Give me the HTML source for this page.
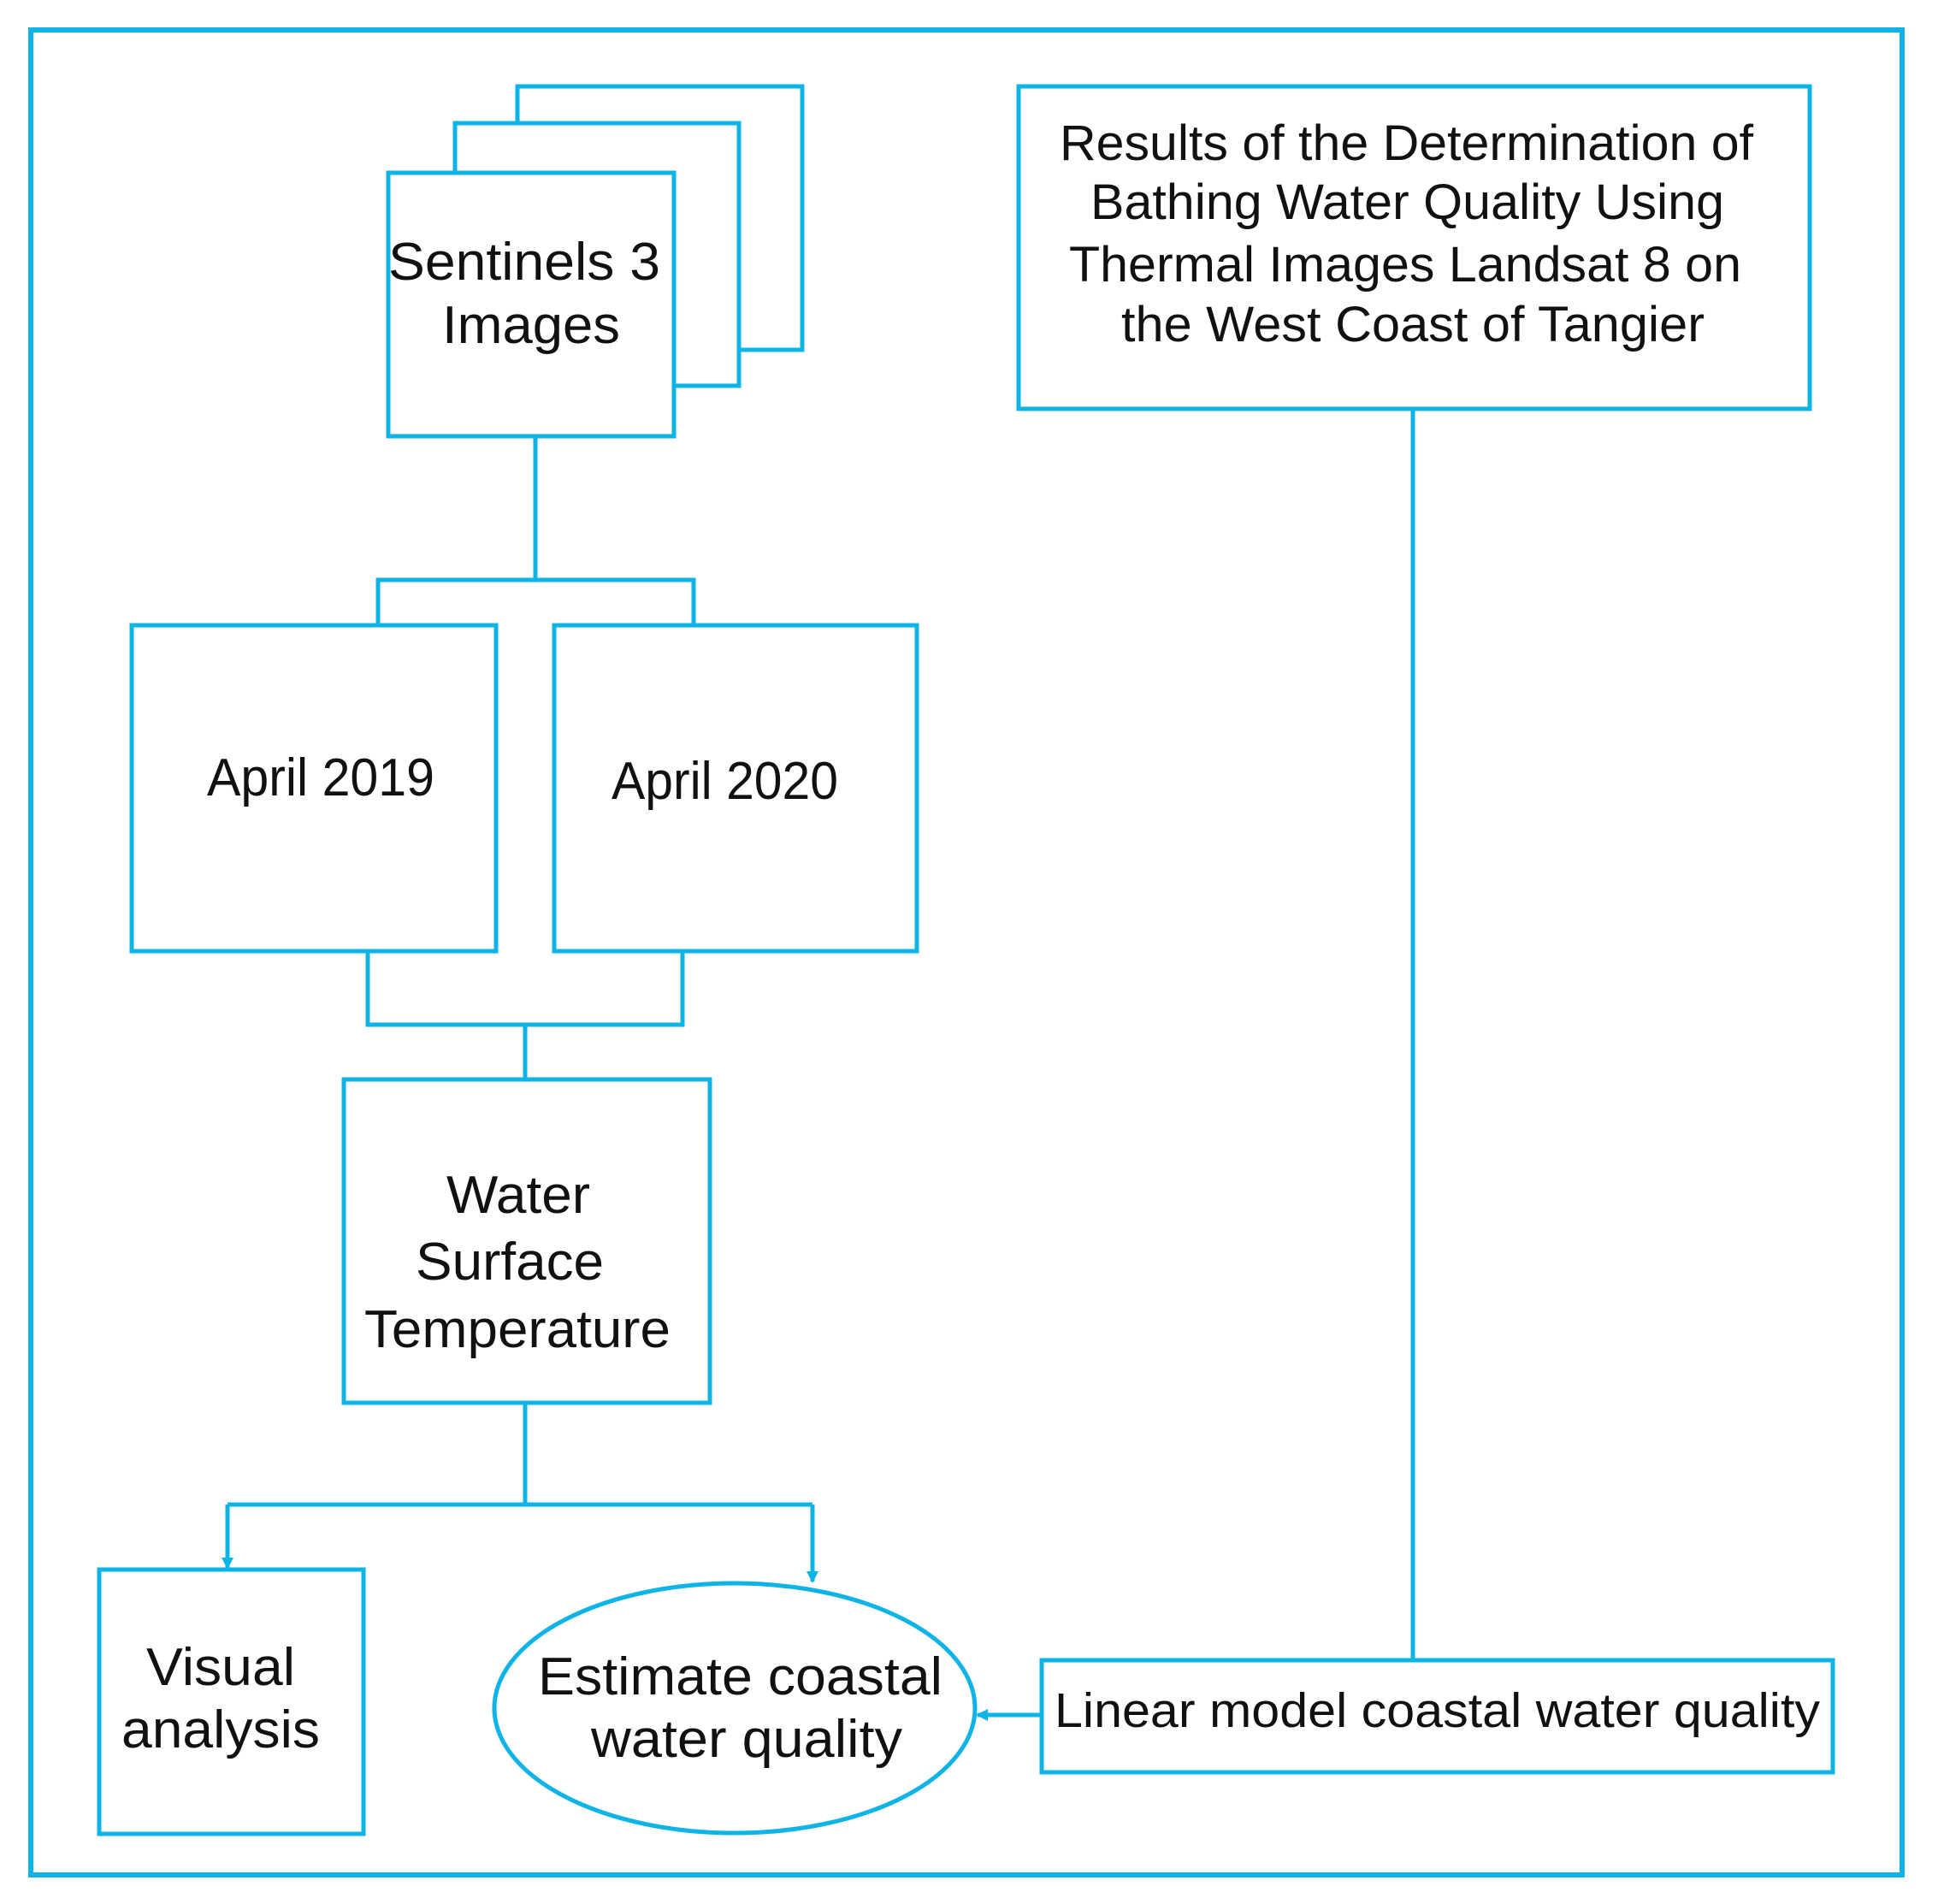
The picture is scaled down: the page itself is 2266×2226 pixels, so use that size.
<!DOCTYPE html>
<html><head><meta charset="utf-8"><style>
html,body{margin:0;padding:0;background:#fff;}
svg{display:block;}
text{font-family:"Liberation Sans",Arial,sans-serif;fill:#111;}
</style></head><body>
<svg width="2266" height="2226" viewBox="0 0 2266 2226" xmlns="http://www.w3.org/2000/svg">
<defs>
<marker id="ah" markerWidth="14" markerHeight="14" refX="12" refY="7" orient="auto" markerUnits="userSpaceOnUse">
<path d="M0,0 L14,7 L0,14 Z" fill="#0fb4e6"/>
</marker>
</defs>
<g fill="none" stroke="#0fb4e6" stroke-width="5">
<rect x="36" y="35" width="2188" height="2157" stroke-width="6"/>
<polyline points="605,144 605,101 938,101 938,409 864,409"/>
<polyline points="532,202 532,144 864,144 864,451 788,451"/>
<rect x="454" y="202" width="334" height="308" fill="#fff"/>
<line x1="626" y1="510" x2="626" y2="678"/>
<polyline points="442,731 442,678 811,678 811,731"/>
<rect x="154" y="731" width="426" height="381"/>
<rect x="648" y="731" width="424" height="381"/>
<polyline points="430,1112 430,1198 798,1198 798,1112"/>
<line x1="614" y1="1198" x2="614" y2="1262"/>
<rect x="402" y="1262" width="428" height="378"/>
<line x1="614" y1="1640" x2="614" y2="1759"/>
<polyline points="266,1759 950,1759"/>
<line x1="266" y1="1759" x2="266" y2="1833" marker-end="url(#ah)"/>
<line x1="950" y1="1759" x2="950" y2="1849" marker-end="url(#ah)"/>
<rect x="116" y="1835" width="309" height="309"/>
<ellipse cx="859" cy="1997" rx="281" ry="146"/>
<rect x="1191" y="101" width="925" height="377"/>
<line x1="1652" y1="478" x2="1652" y2="1941"/>
<rect x="1218" y="1941" width="925" height="131"/>
<line x1="1218" y1="2005" x2="1143" y2="2005" marker-end="url(#ah)"/>
</g>
<g font-size="62">
<text x="454" y="327" textLength="318" lengthAdjust="spacingAndGlyphs">Sentinels 3</text>
<text x="517" y="401" textLength="208" lengthAdjust="spacingAndGlyphs">Images</text>
<text x="242" y="930" textLength="266" lengthAdjust="spacingAndGlyphs">April 2019</text>
<text x="715" y="934" textLength="265" lengthAdjust="spacingAndGlyphs">April 2020</text>
<text x="522" y="1418" textLength="168" lengthAdjust="spacingAndGlyphs">Water</text>
<text x="486" y="1496" textLength="220" lengthAdjust="spacingAndGlyphs">Surface</text>
<text x="426" y="1575" textLength="358" lengthAdjust="spacingAndGlyphs">Temperature</text>
<text x="171" y="1970" textLength="174" lengthAdjust="spacingAndGlyphs">Visual</text>
<text x="142" y="2043" textLength="232" lengthAdjust="spacingAndGlyphs">analysis</text>
<text x="629" y="1981" textLength="473" lengthAdjust="spacingAndGlyphs">Estimate coastal</text>
<text x="691" y="2054" textLength="364" lengthAdjust="spacingAndGlyphs">water quality</text>
</g>
<g font-size="57">
<text x="1233" y="2019" textLength="895" lengthAdjust="spacingAndGlyphs">Linear model coastal water quality</text>
</g>
<g font-size="58">
<text x="1239" y="187" textLength="811" lengthAdjust="spacingAndGlyphs">Results of the Determination of</text>
<text x="1275" y="256" textLength="741" lengthAdjust="spacingAndGlyphs">Bathing Water Quality Using</text>
<text x="1250" y="329" textLength="786" lengthAdjust="spacingAndGlyphs">Thermal Images Landsat 8 on</text>
<text x="1311" y="399" textLength="682" lengthAdjust="spacingAndGlyphs">the West Coast of Tangier</text>
</g>
</svg>
</body></html>
